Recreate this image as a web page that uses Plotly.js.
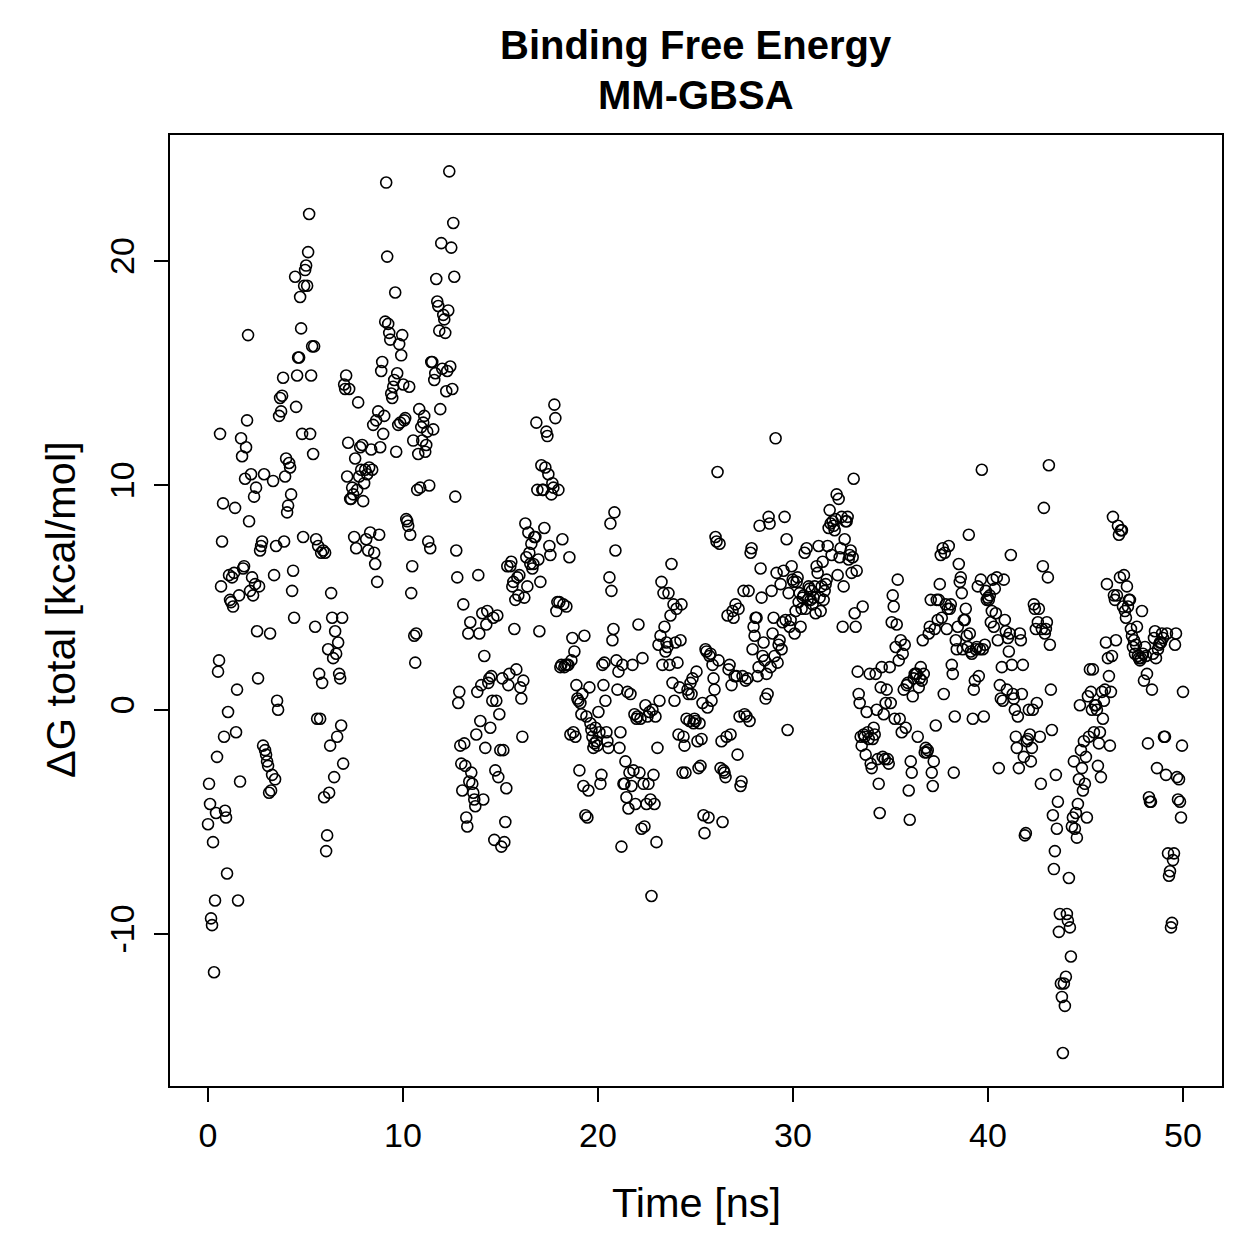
<!DOCTYPE html>
<html>
<head>
<meta charset="utf-8">
<script src="https://cdn.plot.ly/plotly-3.0.1.min.js"></script>
<style>html,body{margin:0;padding:0;background:#fff;}</style>
</head>
<body>
<div id="chart" style="width:1259px;height:1259px;"></div>
<script>
// ΔG total (kcal/mol) per frame in time order
const dG_00_10 = [
-5.1,-3.3,-4.2,-9.3,-9.6,-5.9,-11.7,-8.5,-4.6,-2.1,1.7,2.2,12.3,5.5,7.5,9.2,-1.2,-4.5,-4.8,-7.3,
-0.1,6.0,4.9,4.8,5.9,4.6,6.1,9.0,-1.0,0.9,-8.5,5.1,-3.2,12.1,11.3,6.3,6.4,10.3,11.7,12.9,
16.7,8.4,5.3,10.5,5.9,5.1,9.5,5.6,9.9,3.5,1.4,5.5,7.1,7.3,7.5,-1.6,10.5,-1.8,-2.0,-2.3,
-2.5,-3.7,3.4,-3.6,-2.9,10.2,6.0,-3.1,7.3,0.4,0.0,13.1,13.9,13.3,14.0,14.8,7.5,10.4,11.2,8.8,
9.1,11.0,10.8,9.6,5.3,6.2,4.1,19.3,13.5,14.9,15.7,15.7,18.4,17.0,12.3,7.7,18.9,19.6,19.8,18.9,
20.4,22.1,12.3,14.9,16.2,11.4,16.2,3.7,7.6,-0.4,7.3,1.6,-0.4,7.0,1.2,7.1,-3.9,7.0,-6.3,-5.6,
2.7,-3.7,-1.6,5.2,4.1,2.3,-3.0,3.5,2.5,-1.2,3.0,1.6,1.4,-0.7,4.1,-2.4,14.5,14.3,14.9,10.4,
11.9,14.3,9.4,9.4,9.9,9.6,7.7,11.2,7.2,9.8,13.7,10.4,11.7,10.7,11.8,9.3,10.1,10.7,7.6,10.5,
7.1,10.8,7.9,11.6,10.7,12.7,7.0,6.5,12.9,5.7,13.3,7.8,11.7,15.1,15.5,12.3,13.1,17.3,23.5,20.2,
17.2,16.8,16.5,14.1,13.9,14.4,14.7,18.6,11.5,15.0,12.7,16.3,12.8,15.8,16.7,14.5,12.9,13.0,8.5,8.4
];
const dG_10_20 = [
8.2,14.4,7.8,5.2,6.4,12.0,3.3,2.1,3.4,9.8,11.4,13.4,9.9,12.6,12.0,12.8,13.1,11.5,11.8,12.4,
7.5,10.0,7.2,15.5,15.5,12.5,14.7,15.0,19.2,18.2,18.0,16.9,13.4,20.8,15.2,17.6,17.4,16.8,14.2,15.1,
17.8,24.0,15.3,20.6,14.3,21.7,19.3,9.5,7.1,5.9,0.3,0.8,-1.6,-2.4,-3.6,4.7,-1.5,-2.5,-4.8,-5.2,
3.4,-3.2,3.9,-2.8,-3.3,-3.7,-4.0,-4.3,-1.1,0.8,6.0,3.4,-0.5,1.1,4.3,-4.0,2.4,-1.7,3.8,4.4,
1.2,1.4,-0.8,1.5,0.4,4.1,-5.8,-2.7,0.4,4.2,-3.0,-0.2,-1.8,-6.1,1.4,-1.8,-5.9,-5.0,-3.5,6.4,
1.1,1.6,6.4,6.6,5.5,5.7,3.6,4.9,1.8,5.9,5.1,6.0,1.0,0.5,-1.2,1.3,5.0,8.3,6.8,5.5,
7.9,7.0,6.5,7.4,6.3,6.5,7.7,7.7,12.8,9.8,6.7,3.5,5.7,10.9,9.8,9.8,8.1,10.8,12.4,12.2,
10.5,7.3,6.9,9.6,10.1,9.9,13.6,13.0,4.4,4.8,9.8,4.8,1.9,2.0,7.6,4.7,1.9,2.0,4.6,2.0,
2.0,6.8,-1.1,2.2,3.2,-1.0,2.6,-1.2,1.1,0.5,0.4,-2.7,0.3,-0.2,0.7,-3.4,3.3,-4.7,-0.3,-4.8,
-3.6,1.0,-0.6,-0.9,-1.2,-1.7,-1.5,-0.8,-1.4,-1.6,-0.1,-1.0,-3.3,-2.9,2.0,1.1,2.1,0.4,-1.0,-1.4
];
const dG_20_30 = [
-1.7,5.9,8.3,5.3,3.1,3.6,8.8,7.1,2.2,0.9,1.7,-1.7,-1.0,-6.1,2.0,-3.3,-3.3,-2.3,-3.9,0.8,
-4.4,-2.8,0.7,-3.4,2.0,-2.7,-0.2,-4.2,-0.4,-0.3,3.8,-2.8,-0.4,-5.3,2.3,-3.3,-5.2,0.2,-4.2,-0.3,
-3.3,-0.1,-4.0,-8.3,0.0,-2.9,-4.2,-0.3,-5.9,-1.7,2.9,0.4,3.3,5.7,2.0,5.2,3.7,2.6,3.0,2.8,
5.2,2.0,4.2,6.5,1.2,4.7,0.4,3.0,4.5,2.1,-1.1,1.0,3.1,4.7,-2.8,-1.2,-1.6,-2.8,-0.4,0.9,
0.7,-0.5,1.2,0.7,1.4,-0.6,-0.4,-0.5,1.7,-1.4,-2.6,-0.6,-2.5,-1.3,0.3,-4.7,-5.5,2.7,2.6,0.1,
-4.8,2.4,2.5,0.4,2.0,1.4,0.9,7.7,7.5,10.6,2.2,7.4,-2.6,-1.4,-5.0,-2.7,-2.8,-3.0,-1.2,4.2,
1.8,2.0,-1.1,1.1,4.4,4.1,1.5,4.7,1.5,-2.0,4.5,-0.3,-3.4,-3.2,1.5,5.3,-0.2,1.3,-0.3,1.4,
5.3,-0.5,7.0,7.2,2.7,3.7,3.3,4.1,4.1,1.5,1.9,8.2,6.3,5.0,2.4,3.0,2.2,0.5,1.6,0.7,
8.6,8.3,1.9,5.3,3.4,4.1,2.4,12.1,6.1,2.1,2.9,3.1,5.6,2.7,3.9,6.2,8.6,4.0,7.6,-0.9,
5.2,3.7,4.0,6.4,5.8,5.7,3.4,4.4,5.7,5.9,4.8,5.2,3.7,4.5,5.0,5.1,7.0,4.5,7.2,4.9
];
const dG_30_40 = [
5.5,5.4,4.9,5.3,4.7,5.0,5.5,4.3,6.4,6.1,7.3,5.0,4.4,5.5,6.6,4.9,5.3,5.6,5.8,7.3,
8.1,8.9,8.3,6.9,8.4,8.2,8.0,8.5,9.6,6.0,9.4,6.8,7.2,8.6,3.7,5.5,7.6,8.4,8.4,8.6,
6.7,6.9,7.1,6.1,6.8,10.3,4.3,3.7,6.2,1.7,0.7,0.3,-1.2,-1.6,4.6,-1.1,-1.2,-2.0,-0.1,-1.0,
-1.3,1.6,-2.4,-2.6,-1.3,-0.8,-1.1,1.6,0.0,-2.2,-3.3,-4.6,1.0,1.9,-2.1,-0.2,-2.2,0.3,0.9,-2.2,
-2.4,1.9,0.3,3.9,5.1,4.6,-0.4,2.8,3.8,5.8,2.2,-0.4,3.1,-1.0,2.5,0.9,2.9,-0.8,1.1,1.2,
-3.6,-4.9,-2.3,-2.8,0.6,1.4,1.6,1.6,1.6,-1.2,1.0,1.4,1.9,1.3,3.1,1.6,-1.9,-1.7,-1.9,-1.8,
3.4,3.7,4.9,-2.8,-3.4,-2.3,3.6,-0.7,4.9,4.0,4.9,5.6,6.9,4.1,7.2,0.7,7.0,4.7,3.6,4.5,
7.3,4.5,4.7,2.0,1.6,-2.8,-0.3,3.1,2.7,3.7,6.5,5.7,5.9,5.2,2.7,4.0,4.0,4.5,3.3,2.8,
7.8,3.4,2.6,2.5,-0.4,0.9,1.3,2.7,2.8,5.5,1.5,2.7,5.8,10.7,2.7,-0.3,2.9,5.3,4.9,5.0,
4.9,5.1,3.9,4.4,5.8,3.7,5.4,4.3,5.9,3.1,-2.6,1.1,0.5,1.9,0.4,5.8,4.0,3.5,0.9,3.2
];
const dG_40_50 = [
2.6,3.4,6.9,2.0,0.7,0.5,0.0,-1.2,-1.7,-0.3,-2.6,3.4,3.1,0.7,2.0,-2.1,-5.6,-5.5,-1.4,-1.3,
0.0,-1.1,-2.3,-1.7,0.0,4.7,4.5,3.6,0.3,3.9,4.5,-1.2,-3.3,3.6,6.4,9.0,3.4,3.6,3.9,5.9,
10.9,2.9,0.9,-0.9,-4.7,-7.1,-6.3,-2.9,-5.3,-4.1,-9.9,-9.1,-12.2,-12.8,-15.3,-12.2,-13.2,-11.9,-9.1,-9.4,
-7.5,-9.7,-11.0,-5.2,-4.8,-2.3,-5.3,-4.6,-5.7,-4.2,-3.1,0.2,-1.8,-2.6,-3.6,-1.4,-3.3,-2.1,-4.8,0.6,
-1.2,1.8,0.8,0.0,1.8,-1.0,0.2,0.2,0.0,-2.5,-1.5,-1.0,-3.0,0.8,-0.4,0.4,0.9,3.0,5.6,2.3,
1.5,-1.6,0.8,2.4,8.6,5.1,4.9,3.1,5.1,8.2,7.8,5.9,8.0,8.0,4.6,6.0,4.4,4.1,5.5,4.6,
4.9,4.9,3.6,3.3,2.8,3.1,2.5,2.9,3.7,2.4,2.3,2.2,2.3,4.4,2.5,1.3,2.8,2.4,1.6,-1.5,
-3.9,-4.1,-4.1,0.9,2.5,3.2,3.5,2.3,-2.6,2.7,2.9,3.0,3.0,3.4,3.2,-1.2,-1.2,-2.9,3.4,-6.4,
-7.4,-7.2,-9.7,-9.5,-6.7,-6.4,2.9,3.4,-3.0,-4.0,-3.1,-4.1,-4.8,-1.6,0.8
];
const xTicks = [0, 10, 20, 30, 40, 50];
const yTicks = [-10, 0, 10, 20];
const simLength = 50; // ns

const dG = [].concat(dG_00_10, dG_10_20, dG_20_30, dG_30_40, dG_40_50);
const step = simLength / (dG.length - 1);
const time = dG.map((_, i) => i * step);

const font = 'Liberation Sans, Arial, Helvetica, sans-serif';

const trace = {
  x: time, y: dG, type: 'scatter', mode: 'markers',
  marker: {symbol: 'circle-open', size: 11, color: '#000', line: {width: 1.6, color: '#000'}},
  hoverinfo: 'x+y'
};

const axisCommon = {
  showgrid: false, zeroline: false, showline: true, mirror: true,
  linecolor: '#000', linewidth: 2, ticks: 'outside', ticklen: 14, tickwidth: 2,
  tickcolor: '#000', tickfont: {family: font, size: 34, color: '#000'}, tickmode: 'array'
};

const layout = {
  width: 1259, height: 1259,
  margin: {l: 170, r: 37, t: 135, b: 173},
  paper_bgcolor: '#fff', plot_bgcolor: '#fff',
  showlegend: false,
  xaxis: Object.assign({}, axisCommon, {range: [-1.95, 52.0], tickvals: xTicks, ticktext: xTicks.map(String), ticklabelstandoff: 4}),
  yaxis: Object.assign({}, axisCommon, {range: [-16.77, 25.62], tickvals: yTicks, ticktext: yTicks.map(String), tickangle: -90, ticklabelstandoff: 6}),
  annotations: [
    {text: '<b>Binding Free Energy</b>', xref: 'paper', yref: 'paper', x: 0.5, y: 1.0946, xanchor: 'center', yanchor: 'middle', showarrow: false, font: {family: font, size: 40, color: '#000'}},
    {text: '<b>MM-GBSA</b>', xref: 'paper', yref: 'paper', x: 0.5, y: 1.042, xanchor: 'center', yanchor: 'middle', showarrow: false, font: {family: font, size: 40, color: '#000'}},
    {text: 'Time [ns]', xref: 'paper', yref: 'paper', x: 0.5, y: -0.1220, xanchor: 'center', yanchor: 'middle', showarrow: false, font: {family: font, size: 41.5, color: '#000'}},
    {text: 'ΔG total [kcal/mol]', xref: 'paper', yref: 'paper', x: -0.1045, y: 0.5005, xanchor: 'center', yanchor: 'middle', textangle: -90, showarrow: false, font: {family: font, size: 41.5, color: '#000'}}
  ]
};

Plotly.newPlot('chart', [trace], layout, {displayModeBar: false, staticPlot: true});
</script>
</body>
</html>
